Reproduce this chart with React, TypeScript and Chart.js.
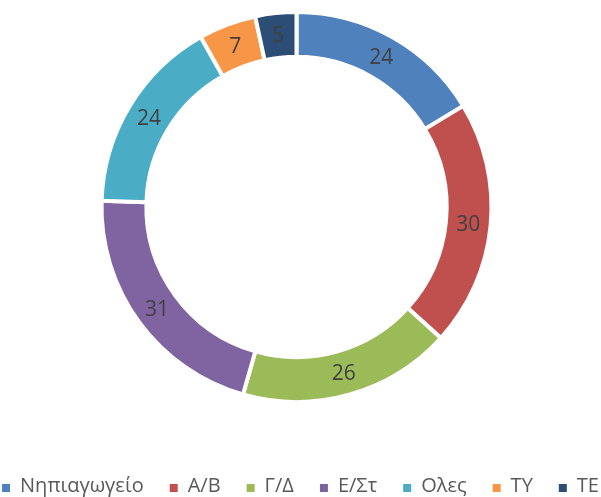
import React, { useEffect, useRef } from "react";
import { Chart, registerables } from "chart.js";

Chart.register(...registerables);

const categories = ["Νηπιαγωγείο", "Α/Β", "Γ/Δ", "Ε/Στ", "Ολες", "ΤΥ", "ΤΕ"];
const values = [24, 30, 26, 31, 24, 7, 5];
const colors = ["#4F81BD", "#C0504D", "#9BBB59", "#8064A2", "#4BACC6", "#F79646", "#2C4D75"];

const FONT = "'Open Sans', 'Liberation Sans', Arial, sans-serif";

const valueLabels = {
  id: "valueLabels",
  afterDatasetsDraw(chart: any) {
    const ctx = chart.ctx;
    const meta = chart.getDatasetMeta(0);
    ctx.save();
    ctx.font = `21px ${FONT}`;
    ctx.fillStyle = "#404040";
    ctx.textAlign = "center";
    ctx.textBaseline = "middle";
    meta.data.forEach((arc: any, i: number) => {
      const p = arc.tooltipPosition();
      ctx.fillText(String(values[i]), p.x, p.y + 1);
    });
    ctx.restore();
  },
};

const bottomLegend = {
  id: "bottomLegend",
  afterDraw(chart: any) {
    const ctx = chart.ctx;
    const labels: string[] = chart.data.labels;
    const bg: string[] = chart.data.datasets[0].backgroundColor;
    const box = 8;
    const gapText = 10;
    const gapItem = 26;
    ctx.save();
    ctx.font = `20px ${FONT}`;
    const widths = labels.map((l) => ctx.measureText(l).width);
    const total =
      widths.reduce((a, w) => a + box + gapText + w, 0) + gapItem * (labels.length - 1);
    let x = (chart.width - total) / 2;
    const yMid = 486;
    ctx.textBaseline = "middle";
    ctx.textAlign = "left";
    labels.forEach((l, i) => {
      ctx.fillStyle = bg[i];
      ctx.fillRect(x, yMid - box / 2 + 2, box, box);
      x += box + gapText;
      ctx.fillStyle = "#595959";
      ctx.fillText(l, x, yMid);
      x += widths[i] + gapItem;
    });
    ctx.restore();
  },
};

export default function App() {
  const ref = useRef<HTMLCanvasElement>(null);
  useEffect(() => {
    if (!ref.current) return;
    const chart = new Chart(ref.current, {
      type: "doughnut",
      data: {
        labels: categories,
        datasets: [
          {
            data: values,
            backgroundColor: colors,
            borderColor: "#ffffff",
            borderWidth: 4,
            hoverOffset: 0,
          },
        ],
      },
      options: {
        responsive: false,
        animation: false,
        radius: 195,
        cutout: "77%",
        layout: { padding: { top: 12, bottom: 95, left: 0, right: 8 } },
        plugins: {
          tooltip: { enabled: false },
          legend: { display: false },
        },
      },
      plugins: [valueLabels, bottomLegend],
    });
    return () => chart.destroy();
  }, []);
  return (
    <div style={{ position: "absolute", left: 0, top: 0, width: 601, height: 497 }}>
      <canvas ref={ref} width={601} height={497} style={{ width: 601, height: 497 }} />
    </div>
  );
}
